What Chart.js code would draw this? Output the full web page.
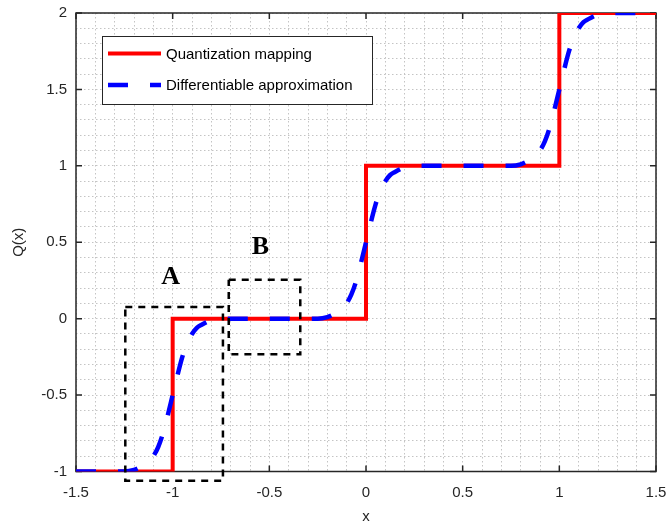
<!DOCTYPE html>
<html>
<head>
<meta charset="utf-8">
<title>Quantization mapping</title>
<script src="https://cdn.jsdelivr.net/npm/chart.js@4.4.1/dist/chart.umd.min.js"></script>
<style>
  html, body { margin: 0; padding: 0; background: #fff; }
  #wrap { width: 666px; height: 523px; }
</style>
</head>
<body>
<div id="wrap"><canvas id="c" width="666" height="523"></canvas></div>
<script>
// --- data ---
const xMajor = [-1.5, -1, -0.5, 0, 0.5, 1, 1.5];
const yMajor = [-1, -0.5, 0, 0.5, 1, 1.5, 2];

// hard quantizer (step function)
const stepX = [-1.5, -1, -1, 0, 0, 1, 1, 1.5];
const stepY = [-1, -1, 0, 0, 1, 1, 2, 2];

// smooth (differentiable) approximation
const softX = [-1.5, -1.35, -1.3, -1.25, -1.2, -1.15, -1.125, -1.1, -1.075, -1.05, -1.025,
  -1, -0.975, -0.95, -0.925, -0.9, -0.875, -0.85, -0.8, -0.75, -0.7,
  -0.5, -0.3, -0.25, -0.2, -0.15, -0.125, -0.1, -0.075, -0.05, -0.025,
  0, 0.025, 0.05, 0.075, 0.1, 0.125, 0.15, 0.2, 0.25, 0.3,
  0.5, 0.7, 0.75, 0.8, 0.85, 0.875, 0.9, 0.925, 0.95, 0.975,
  1, 1.025, 1.05, 1.075, 1.1, 1.125, 1.15, 1.2, 1.25, 1.3, 1.35, 1.5];
const softY = [-1, -1, -1, -1, -0.99, -0.96, -0.94, -0.90, -0.84, -0.75, -0.63,
  -0.5, -0.37, -0.25, -0.16, -0.10, -0.06, -0.04, -0.01, 0, 0,
  0, 0, 0, 0.01, 0.04, 0.06, 0.10, 0.16, 0.25, 0.37,
  0.5, 0.63, 0.75, 0.84, 0.90, 0.94, 0.96, 0.99, 1, 1,
  1, 1, 1, 1.01, 1.04, 1.06, 1.10, 1.16, 1.25, 1.37,
  1.5, 1.63, 1.75, 1.84, 1.90, 1.94, 1.96, 1.99, 2, 2, 2, 2];

// zoom-in regions A and B (corners)
const boxAX = [-1.245, -0.74, -0.74, -1.245, -1.245];
const boxAY = [0.076, 0.076, -1.06, -1.06, 0.076];
const boxBX = [-0.71, -0.34, -0.34, -0.71, -0.71];
const boxBY = [0.255, 0.255, -0.233, -0.233, 0.255];

const seriesNames = ['Quantization mapping', 'Differentiable approximation'];

const pts = (xs, ys) => xs.map((x, i) => ({ x, y: ys[i] }));
const isMajor = (list, v) => list.some(m => Math.abs(m - v) < 1e-6);

const FONT = '"Liberation Sans", Arial, Helvetica, sans-serif';
const INK = '#262626';

// axes box + inward major ticks on all four sides (under the curves)
const frame = {
  id: 'frame',
  beforeDatasetsDraw(chart) {
    const { ctx, chartArea: a, scales: { x, y } } = chart;
    ctx.save();
    ctx.strokeStyle = INK;
    ctx.lineWidth = 1.5;
    ctx.strokeRect(a.left, a.top, a.right - a.left, a.bottom - a.top);
    const tl = 6;
    ctx.beginPath();
    xMajor.forEach(v => {
      const px = x.getPixelForValue(v);
      ctx.moveTo(px, a.bottom); ctx.lineTo(px, a.bottom - tl);
      ctx.moveTo(px, a.top); ctx.lineTo(px, a.top + tl);
    });
    yMajor.forEach(v => {
      const py = y.getPixelForValue(v);
      ctx.moveTo(a.left, py); ctx.lineTo(a.left + tl, py);
      ctx.moveTo(a.right, py); ctx.lineTo(a.right - tl, py);
    });
    ctx.stroke();
    ctx.restore();
  }
};

// region letters and the boxed legend
const overlay = {
  id: 'overlay',
  afterDraw(chart) {
    const { ctx, chartArea: a, scales: { x, y } } = chart;
    ctx.save();
    ctx.fillStyle = '#000';
    ctx.font = 'bold 26px "Liberation Serif", "Times New Roman", serif';
    ctx.textAlign = 'center';
    ctx.textBaseline = 'middle';
    ctx.fillText('A', x.getPixelForValue(-1.01), y.getPixelForValue(0.27));
    ctx.fillText('B', x.getPixelForValue(-0.546), y.getPixelForValue(0.467));

    // legend, in the order of seriesNames
    const lx = a.left + 26, ly = a.top + 23, lw = 270, lh = 68;
    ctx.fillStyle = '#fff';
    ctx.fillRect(lx, ly, lw, lh);
    ctx.strokeStyle = INK;
    ctx.lineWidth = 1;
    ctx.strokeRect(lx + 0.5, ly + 0.5, lw, lh);
    const items = seriesNames.map(n => chart.data.datasets.find(d => d.label === n));
    items.forEach((d, i) => {
      const cy = ly + 17.5 + i * 31.5;
      ctx.beginPath();
      ctx.strokeStyle = d.borderColor;
      ctx.lineWidth = d.borderWidth;
      ctx.setLineDash(d.borderDash || []);
      ctx.moveTo(lx + 6, cy);
      ctx.lineTo(lx + 59, cy);
      ctx.stroke();
      ctx.setLineDash([]);
      ctx.fillStyle = '#000';
      ctx.font = '15px ' + FONT;
      ctx.textAlign = 'left';
      ctx.textBaseline = 'middle';
      ctx.fillText(d.label, lx + 64, cy + 1);
    });
    ctx.restore();
  }
};

const dotted = {
  color: '#c4c4c4',
  lineWidth: 1,
  drawTicks: false
};

new Chart(document.getElementById('c'), {
  type: 'line',
  data: {
    datasets: [
      {
        data: pts(boxAX, boxAY), borderColor: '#000', borderWidth: 2.5,
        borderDash: [7, 6], pointRadius: 0, clip: false, order: 1
      },
      {
        data: pts(boxBX, boxBY), borderColor: '#000', borderWidth: 2.5,
        borderDash: [7, 6], pointRadius: 0, clip: false, order: 1
      },
      {
        label: seriesNames[1], data: pts(softX, softY), borderColor: '#0000ff',
        borderWidth: 4.5, borderDash: [20, 22], pointRadius: 0,
        cubicInterpolationMode: 'monotone', order: 2
      },
      {
        label: seriesNames[0], data: pts(stepX, stepY), borderColor: '#ff0000',
        borderWidth: 4, pointRadius: 0, order: 3
      }
    ]
  },
  options: {
    responsive: false,
    animation: false,
    layout: { padding: { left: 0, right: 10, top: 13, bottom: 0 } },
    plugins: { legend: { display: false }, tooltip: { enabled: false } },
    scales: {
      x: {
        type: 'linear', min: -1.5, max: 1.5,
        grid: dotted,
        border: { display: false, dash: [1.5, 2.5] },
        ticks: {
          stepSize: 0.1, autoSkip: false, maxRotation: 0, maxTicksLimit: 100,
          padding: 12, color: INK, font: { family: FONT, size: 15 },
          callback: v => isMajor(xMajor, v) ? String(+v.toFixed(1)) : ''
        },
        title: {
          display: true, text: 'x', color: INK,
          font: { family: FONT, size: 15, lineHeight: 1 },
          padding: { top: 0, bottom: -1 }
        },
        afterFit: s => { s.height = 51.5; s.paddingLeft = 0; s.paddingRight = 0; }
      },
      y: {
        type: 'linear', min: -1, max: 2,
        grid: dotted,
        border: { display: false, dash: [1.5, 2.5] },
        ticks: {
          stepSize: 0.1, autoSkip: false, maxTicksLimit: 100,
          padding: 9, color: INK, font: { family: FONT, size: 15 },
          callback: v => isMajor(yMajor, v) ? String(+v.toFixed(1)) : ''
        },
        title: {
          display: true, text: 'Q(x)', color: INK,
          font: { family: FONT, size: 15, lineHeight: 1 },
          padding: { top: 11.5, bottom: 0 }
        },
        afterFit: s => { s.width = 76; s.paddingTop = 0; s.paddingBottom = 0; }
      }
    }
  },
  plugins: [frame, overlay]
});
</script>
</body>
</html>
